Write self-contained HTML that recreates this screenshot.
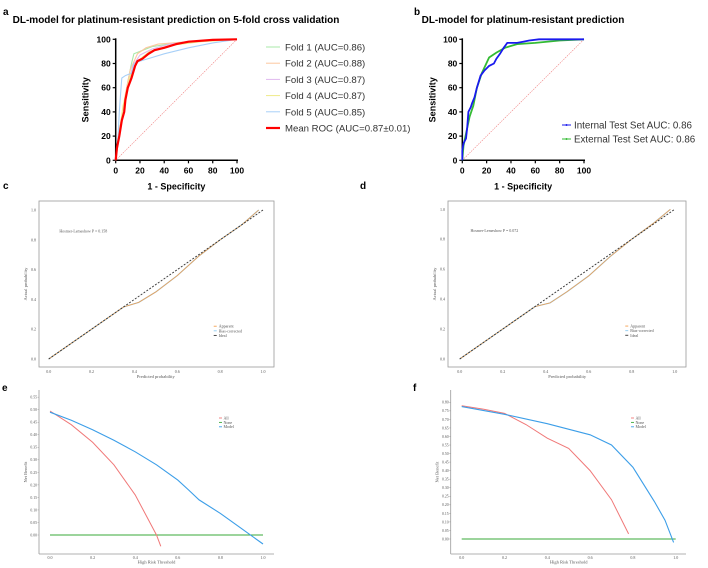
<!DOCTYPE html>
<html><head><meta charset="utf-8"><style>
body{margin:0;background:#fff}
svg{display:block}
.s{font-family:"Liberation Sans",sans-serif}
.r{font-family:"Liberation Serif",serif;fill:#555}
</style></head><body>
<svg id="fig" width="708" height="568" viewBox="0 0 708 568" xmlns="http://www.w3.org/2000/svg">
<rect width="708" height="568" fill="#fff"/>
<g id="g" ></g>
</svg>
<script>
// ---- Panel a data (1-specificity %, sensitivity %) ----
const meanFpr=[0,1,3,5,7,8,10,13,16,18,22,27,32,40,50,60,80,100];
const meanTpr=[0,10,20,33,40,50,60,68,78,82,84,88,91,93,96,98,99.5,100];
const f1Fpr=[0,3,7,10,13,15,20,30,50,100], f1Tpr=[0,25,45,65,80,88,90,94,97,100];
const f2Fpr=[0,4,8,12,18,25,35,60,100], f2Tpr=[0,30,55,75,88,93,96,98,100];
const f3Fpr=[0,3,8,14,20,30,45,70,100], f3Tpr=[0,20,50,78,87,92,96,99,100];
const f4Fpr=[0,2,6,12,18,28,45,70,100], f4Tpr=[0,15,45,70,82,90,95,98,100];
const f5Fpr=[0,2,3,4,5,8,13,15,20,30,40,60,80,100], f5Tpr=[0,20,40,55,68,70,72,80,82,85,88,93,97,100];
const foldLabels=["Fold 1 (AUC=0.86)","Fold 2 (AUC=0.88)","Fold 3 (AUC=0.87)","Fold 4 (AUC=0.87)","Fold 5 (AUC=0.85)","Mean ROC (AUC=0.87±0.01)"];
const rocTicks=[0,20,40,60,80,100];
// ---- Panel b data ----
const intFpr=[0,0,1,3,4,5,7,8,10,12,15,18,22,26,28,31,34,37,45,50,55,63,100];
const intTpr=[0,8,14,18,27,40,44,47,52,60,70,74,78,80,84,88,93,97,97,98,99,100,100];
const extFpr=[0,1,3,6,9,12,16,22,28,35,45,60,80,100];
const extTpr=[0,12,22,36,45,60,72,85,89,93,96,97,99,100];
// ---- Calibration data ----
const calPred=[0,0.2,0.35,0.42,0.5,0.6,0.7,0.8,0.9,0.98];
const calAppC=[0,0.2,0.35,0.38,0.45,0.56,0.69,0.8,0.9,1.0];
const calAppD=[0,0.2,0.35,0.375,0.45,0.555,0.685,0.8,0.905,1.0];
const calTicks=[0,0.2,0.4,0.6,0.8,1.0];
// ---- DCA data ----
const eAllT=[0,0.1,0.2,0.3,0.4,0.45,0.5,0.52], eAllV=[0.495,0.44,0.37,0.28,0.16,0.08,0.0,-0.045];
const eModT=[0,0.1,0.2,0.3,0.4,0.5,0.6,0.65,0.7,0.8,0.9,1.0], eModV=[0.49,0.458,0.42,0.378,0.332,0.28,0.219,0.18,0.14,0.086,0.025,-0.036];
const fAllT=[0,0.1,0.2,0.3,0.4,0.5,0.6,0.7,0.78], fAllV=[0.78,0.76,0.735,0.67,0.59,0.53,0.40,0.23,0.03];
const fModT=[0,0.2,0.4,0.6,0.7,0.8,0.9,0.95,0.99], fModV=[0.775,0.73,0.675,0.61,0.55,0.42,0.22,0.11,-0.02];
const eTicks=[0,0.05,0.1,0.15,0.2,0.25,0.3,0.35,0.4,0.45,0.5,0.55];
const fTicks=[0,0.05,0.1,0.15,0.2,0.25,0.3,0.35,0.4,0.45,0.5,0.55,0.6,0.65,0.7,0.75,0.8];
const dcaX=[0,0.2,0.4,0.6,0.8,1.0];

const NS="http://www.w3.org/2000/svg";
const G=document.getElementById('g');
function el(tag,attrs,parent,text){const e=document.createElementNS(NS,tag);for(const k in attrs)e.setAttribute(k,attrs[k]);if(text!==undefined)e.textContent=text;(parent||G).appendChild(e);return e;}
function lin(d0,d1,r0,r1){return v=>r0+(v-d0)/(d1-d0)*(r1-r0);}
function pathOf(xs,ys,sx,sy){return xs.map((x,i)=>(i?'L':'M')+sx(x).toFixed(1)+','+sy(ys[i]).toFixed(1)).join('');}

[["a",3,15],["b",414,15],["c",3,189],["d",360,189],["e",2,391],["f",413,391]].forEach(p=>{
 const t=el('text',{x:p[1],y:p[2],'font-size':10,'font-weight':'bold',class:'s',fill:'#000'},G,p[0]);
 
 
});

function roc(x0,x1,y0,y1,title,tx,name){
 const sx=lin(0,100,x0,x1), sy=lin(0,100,y0,y1);
 const g=el('g',{});
 
 
 const t=el('text',{x:tx,y:23,'font-size':10,'font-weight':'bold',class:'s','text-anchor':'middle'},g,title);
 
 
 el('line',{x1:sx(0),y1:sy(0),x2:sx(100),y2:sy(100),stroke:'#f08080','stroke-width':0.6,'stroke-dasharray':'1.5,1'},g);
 el('line',{x1:x0,y1:y0,x2:x0,y2:y1-1,stroke:'#000','stroke-width':1.5},g);
 el('line',{x1:x0,y1:y0,x2:x1+1,y2:y0,stroke:'#000','stroke-width':1.5},g);
 rocTicks.forEach(v=>{
  el('line',{x1:x0-3,y1:sy(v),x2:x0,y2:sy(v),stroke:'#000','stroke-width':1.2},g);
  el('text',{x:x0-5,y:sy(v)+3,'font-size':8.5,'font-weight':'bold',class:'s','text-anchor':'end'},g,v);
  el('line',{x1:sx(v),y1:y0,x2:sx(v),y2:y0+3,stroke:'#000','stroke-width':1.2},g);
  el('text',{x:sx(v),y:y0+13,'font-size':8.5,'font-weight':'bold',class:'s','text-anchor':'middle'},g,v);
 });
 const xl=el('text',{x:(x0+x1)/2,y:y0+29,'font-size':9,'font-weight':'bold',class:'s','text-anchor':'middle'},g,'1 - Specificity');
 
 
 const yl=el('text',{x:0,y:0,'font-size':9,'font-weight':'bold',class:'s','text-anchor':'middle',transform:`translate(${x0-27},${(y0+y1)/2}) rotate(-90)`},g,'Sensitivity');
 
 
 return {g,sx,sy};
}
const A=roc(115.7,237,160.3,39.3,'DL-model for platinum-resistant prediction on 5-fold cross validation',176,'roc-cv-chart');
const foldCols=['#a8e8a8','#fcc8a0','#e0b8ee','#eeea88','#a8d0f8'];
[[f1Fpr,f1Tpr],[f2Fpr,f2Tpr],[f3Fpr,f3Tpr],[f4Fpr,f4Tpr],[f5Fpr,f5Tpr]].forEach((f,i)=>{
 const p=el('path',{d:pathOf(f[0],f[1],A.sx,A.sy),fill:'none',stroke:foldCols[i],'stroke-width':1.1},A.g);
 
 
});
const mp=el('path',{d:pathOf(meanFpr,meanTpr,A.sx,A.sy),fill:'none',stroke:'#ff0000','stroke-width':2.2},A.g);


foldLabels.forEach((lab,i)=>{
 const y=47+i*16.2;
 const lg=el('g',{},A.g);
 
 
 el('line',{x1:266,y1:y,x2:280,y2:y,stroke:i<5?foldCols[i]:'#ff0000','stroke-width':i<5?1:2.2},lg);
 el('text',{x:285,y:y+3.5,'font-size':9.6,class:'s',fill:'#333'},lg,lab);
});
const B=roc(462.3,584,160.3,39.3,'DL-model for platinum-resistant prediction',523,'roc-test-chart');
const ep=el('path',{d:pathOf(extFpr,extTpr,B.sx,B.sy),fill:'none',stroke:'#33bb33','stroke-width':1.8},B.g);


const ip=el('path',{d:pathOf(intFpr,intTpr,B.sx,B.sy),fill:'none',stroke:'#1a1aee','stroke-width':1.8},B.g);


[['Internal Test Set AUC: 0.86','#1a1aee',125],['External Test Set AUC: 0.86','#33bb33',139]].forEach(l=>{
 const lg=el('g',{},B.g);
 
 
 el('line',{x1:562,y1:l[2],x2:571,y2:l[2],stroke:l[1],'stroke-width':1},lg);
 el('circle',{cx:566.5,cy:l[2],r:1,fill:l[1]},lg);
 el('text',{x:574,y:l[2]+3.5,'font-size':9.8,class:'s',fill:'#333'},lg,l[0]);
});

function calib(bx0,bx1,by0,by1,x0,x1,y0,y1,app,pText,name){
 const sx=lin(0,1,x0,x1), sy=lin(0,1,y0,y1);
 const g=el('g',{});
 
 
 el('rect',{x:bx0,y:by0,width:bx1-bx0,height:by1-by0,fill:'none',stroke:'#999','stroke-width':0.8},g);
 calTicks.forEach(v=>{
  el('text',{x:bx0-3,y:sy(v)+1.5,'font-size':4,class:'r','text-anchor':'end'},g,v.toFixed(1));
  el('text',{x:sx(v),y:by1+6,'font-size':4,class:'r','text-anchor':'middle'},g,v.toFixed(1));
 });
 el('text',{x:(x0+x1)/2,y:by1+11,'font-size':4.5,class:'r','text-anchor':'middle'},g,'Predicted probability');
 el('text',{x:0,y:0,'font-size':4.5,class:'r','text-anchor':'middle',transform:`translate(${bx0-12},${(by0+by1)/2}) rotate(-90)`},g,'Actual probability');
 el('text',{x:sx(0.05),y:sy(0.86)+1.5,'font-size':4,class:'r',fill:'#333'},g,pText);
 const bp=el('path',{d:pathOf(calPred,app,sx,sy),fill:'none',stroke:'#8ecbf0','stroke-width':1.2},g);
 
 
 const ap=el('path',{d:pathOf(calPred,app,sx,sy),fill:'none',stroke:'#f4a050','stroke-width':0.8},g);
 
 
 const ip=el('path',{d:pathOf([0,1],[0,1],sx,sy),fill:'none',stroke:'#333','stroke-width':0.9,'stroke-dasharray':'2,1.5'},g);
 
 
 [['Apparent','#f4a050'],['Bias-corrected','#8ecbf0'],['Ideal','#333']].forEach((l,i)=>{
  const lx=sx(0.77), ly=sy(0.22)+i*4.6;
  el('line',{x1:lx,y1:ly,x2:lx+3,y2:ly,stroke:l[1],'stroke-width':0.9},g);
  el('text',{x:lx+5,y:ly+1.5,'font-size':4,class:'r',fill:'#333'},g,l[0]);
 });
}
calib(39,274,201,367,48.7,263,359,210,calAppC,'Hosmer-Lemeshow  P = 0.158','calibration-chart-internal');
calib(448,686,201,367,459.7,674.7,359,209.3,calAppD,'Hosmer-Lemeshow  P = 0.072','calibration-chart-external');

function dca(lx,bx1,top,bot,x0,x1,y0,yTopV,yTopPx,ticks,allT,allV,modT,modV,legX,name){
 const sx=lin(0,1,x0,x1), sy=lin(0,yTopV,y0,yTopPx);
 const g=el('g',{});
 
 
 el('line',{x1:lx,y1:top,x2:lx,y2:bot,stroke:'#999','stroke-width':0.8},g);
 el('line',{x1:lx,y1:bot,x2:bx1,y2:bot,stroke:'#999','stroke-width':0.8},g);
 ticks.forEach(v=>{
  el('line',{x1:lx-1.5,y1:sy(v),x2:lx,y2:sy(v),stroke:'#999','stroke-width':0.5},g);
  el('text',{x:lx-2,y:sy(v)+1.4,'font-size':3.8,class:'r','text-anchor':'end'},g,v.toFixed(2));
 });
 dcaX.forEach(v=>{
  el('text',{x:sx(v),y:bot+5,'font-size':4,class:'r','text-anchor':'middle'},g,v.toFixed(1));
 });
 el('text',{x:(x0+x1)/2,y:bot+9.5,'font-size':4.5,class:'r','text-anchor':'middle',fill:'#333'},g,'High Risk Threshold');
 el('text',{x:0,y:0,'font-size':4.5,class:'r','text-anchor':'middle',fill:'#333',transform:`translate(${lx-12},${(top+bot)/2}) rotate(-90)`},g,'Net Benefit');
 const np=el('path',{d:pathOf([0,1],[0,0],sx,sy),fill:'none',stroke:'#3aaa3a','stroke-width':1.1},g);
 
 
 const ap=el('path',{d:pathOf(allT,allV,sx,sy),fill:'none',stroke:'#f07878','stroke-width':1},g);
 
 
 const mp=el('path',{d:pathOf(modT,modV,sx,sy),fill:'none',stroke:'#3c9ee8','stroke-width':1.1},g);
 
 
 [['All','#f07878'],['None','#3aaa3a'],['Model','#3c9ee8']].forEach((l,i)=>{
  const ly=418+i*4.4;
  el('line',{x1:legX,y1:ly,x2:legX+3,y2:ly,stroke:l[1],'stroke-width':0.9},g);
  el('text',{x:legX+4.5,y:ly+1.4,'font-size':4,class:'r',fill:'#333'},g,l[0]);
 });
}
dca(39,274,390,554,50,263,535,0.5,409.7,eTicks,eAllT,eAllV,eModT,eModV,219,'dca-chart-internal');
dca(450.7,686,390,554,461.7,675.7,539,0.8,402.3,fTicks,fAllT,fAllV,fModT,fModV,631,'dca-chart-external');
</script>
</body></html>
